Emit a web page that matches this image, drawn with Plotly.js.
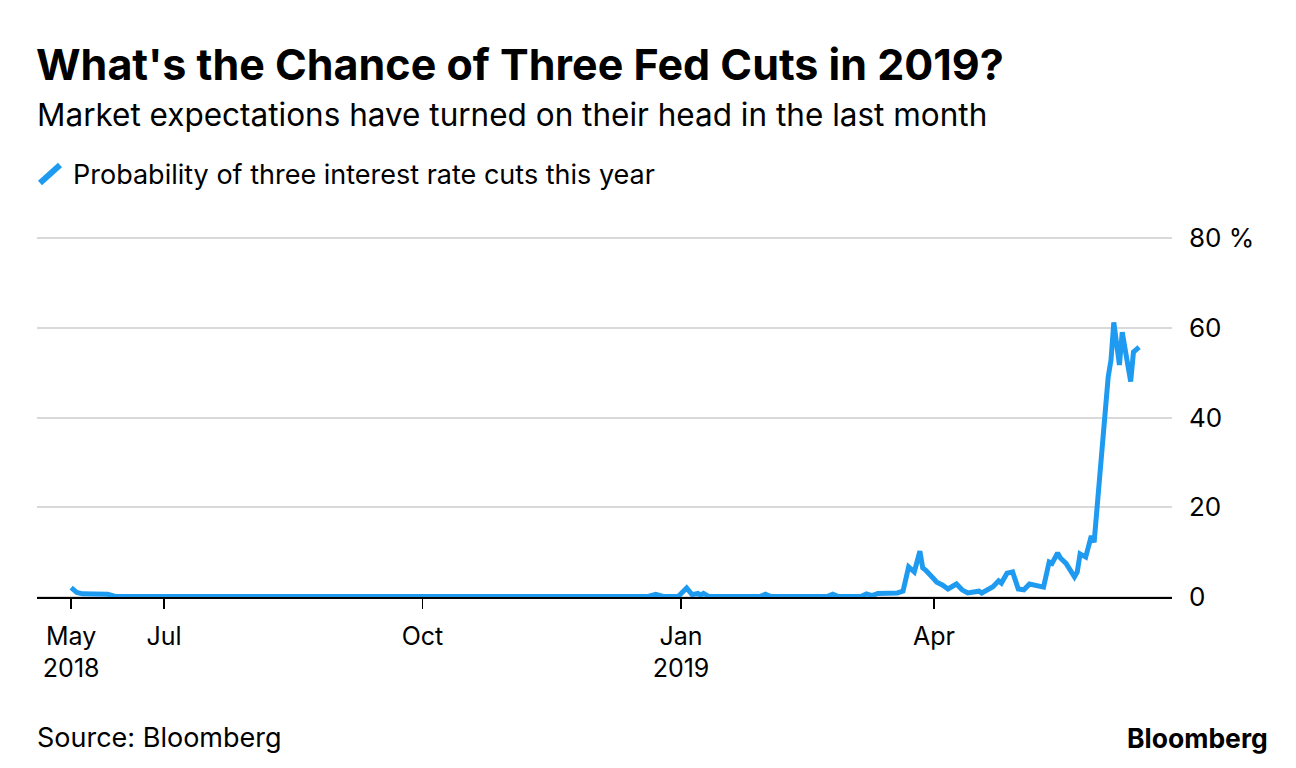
<!DOCTYPE html>
<html>
<head>
<meta charset="utf-8">
<script src="https://cdn.plot.ly/plotly-3.0.1.min.js"></script>
<style>
  html, body { margin: 0; padding: 0; background: #fff; }
  #chart { width: 1296px; height: 768px; }
</style>
</head>
<body>
<div id="chart"></div>
<script>
// ---- data ----
const dates = [
  '2018-05-29','2018-05-31','2018-06-02','2018-06-11','2018-06-14',
  '2018-07-02','2018-08-01','2018-09-04','2018-10-01','2018-11-01','2018-12-03',
  '2018-12-20','2018-12-23','2018-12-26','2018-12-31',
  '2019-01-03','2019-01-05','2019-01-07','2019-01-08','2019-01-09','2019-01-11',
  '2019-01-29','2019-01-31','2019-02-02','2019-02-22','2019-02-24','2019-02-26',
  '2019-03-06','2019-03-08','2019-03-10','2019-03-12','2019-03-19','2019-03-21',
  '2019-03-23','2019-03-25','2019-03-27','2019-03-28','2019-03-29','2019-04-01',
  '2019-04-02','2019-04-04','2019-04-06','2019-04-09','2019-04-11','2019-04-13',
  '2019-04-17','2019-04-18','2019-04-22','2019-04-24','2019-04-25','2019-04-27',
  '2019-04-29','2019-05-01','2019-05-03','2019-05-05','2019-05-09','2019-05-10',
  '2019-05-12','2019-05-13','2019-05-15','2019-05-16','2019-05-18','2019-05-20',
  '2019-05-21','2019-05-22','2019-05-23','2019-05-25','2019-05-27','2019-05-28',
  '2019-06-02','2019-06-03','2019-06-04','2019-06-06','2019-06-07','2019-06-10',
  '2019-06-11','2019-06-13'
];
const probability = [
  2.1, 1.0, 0.7, 0.6, 0.1,
  0.1, 0.1, 0.1, 0.1, 0.1, 0.1,
  0.1, 0.6, 0.1, 0.1,
  2.0, 0.5, 0.8, 0.4, 0.8, 0.1,
  0.1, 0.6, 0.1, 0.1, 0.6, 0.1,
  0.1, 0.7, 0.3, 0.8, 0.9, 1.3,
  6.7, 5.6, 10.2, 6.5, 6.0, 4.0,
  3.3, 2.7, 1.8, 2.9, 1.6, 0.9,
  1.3, 0.9, 2.3, 3.6, 3.1, 5.3,
  5.6, 1.8, 1.6, 2.9, 2.5, 2.2,
  7.8, 7.5, 9.8, 8.7, 7.5, 5.3,
  4.5, 5.6, 9.6, 8.9, 13.6, 12.2,
  49.0, 52.8, 61.2, 51.7, 59.0, 48.0,
  54.6, 55.7
];
const xTickVals = ['2018-05-29','2018-07-01','2018-10-01','2019-01-01','2019-04-01'];
const xTickText = ['May<br>2018','Jul','Oct','Jan<br>2019','Apr'];
const yTickVals = [0, 20, 40, 60, 80];
const yTickText = ['0', '20', '40', '60', '80 %'];

const titleText = "What's the Chance of Three Fed Cuts in 2019?";
const subtitleText = 'Market expectations have turned on their head in the last month';
const legendText = 'Probability of three interest rate cuts this year';
const sourceText = 'Source: Bloomberg';
const logoText = 'Bloomberg';

// ---- layout geometry ----
const W = 1296, H = 768;
const plotL = 37, plotR = 1172, plotT = 236, plotB = 601;
const yMin = -0.89, yMax = 80.45;
const FONT = 'Inter, Liberation Sans, Arial, sans-serif';
const BLUE = '#1e9bf0';

function px(x) { return (x - plotL) / (plotR - plotL); }
function py(y) { return (plotB - y) / (plotB - plotT); }

const trace = {
  x: dates, y: probability, type: 'scatter', mode: 'lines',
  line: { color: BLUE, width: 5 },
  hoverinfo: 'x+y', showlegend: false
};

const layout = {
  width: W, height: H,
  paper_bgcolor: '#fff', plot_bgcolor: '#fff',
  margin: { l: plotL, r: W - plotR, t: plotT, b: H - plotB, pad: 0 },
  font: { family: FONT, color: '#000' },
  title: {
    text: titleText,
    font: { family: FONT, size: 43, weight: 700, color: '#000' },
    xref: 'container', yref: 'container',
    x: 36 / W, xanchor: 'left',
    y: 1 - 65 / H, yanchor: 'middle'
  },
  xaxis: {
    type: 'date',
    range: ['2018-05-16T20:00', '2019-06-24T17:00'],
    tickvals: xTickVals, ticktext: xTickText,
    ticks: 'outside', ticklen: 10, tickwidth: 1.5, tickcolor: '#000',
    ticklabelstandoff: 6,
    showline: true, linecolor: '#000', linewidth: 1.5,
    showgrid: false, zeroline: false,
    anchor: 'free', position: (0 - yMin) / (yMax - yMin),
    tickfont: { family: FONT, size: 25, color: '#000' },
    fixedrange: true
  },
  yaxis: {
    range: [yMin, yMax],
    side: 'right',
    tickvals: yTickVals, ticktext: yTickText,
    ticks: '', ticklabelstandoff: 16,
    showgrid: true, gridcolor: '#d9d9d9', gridwidth: 2,
    zeroline: false, showline: false,
    tickfont: { family: FONT, size: 26, color: '#000' },
    fixedrange: true
  },
  shapes: [
    { type: 'line', xref: 'paper', yref: 'paper',
      x0: px(40), y0: py(183), x1: px(60), y1: py(165),
      line: { color: BLUE, width: 6 } }
  ],
  annotations: [
    { text: subtitleText, xref: 'paper', yref: 'paper', x: px(35), y: py(115),
      xanchor: 'left', yanchor: 'middle', showarrow: false,
      font: { family: FONT, size: 31.5, color: '#000' } },
    { text: legendText, xref: 'paper', yref: 'paper', x: px(71), y: py(175),
      xanchor: 'left', yanchor: 'middle', showarrow: false,
      font: { family: FONT, size: 27, color: '#000' } },
    { text: sourceText, xref: 'paper', yref: 'paper', x: px(35), y: py(737),
      xanchor: 'left', yanchor: 'middle', showarrow: false,
      font: { family: FONT, size: 27, color: '#000' } },
    { text: logoText, xref: 'paper', yref: 'paper', x: px(1270), y: py(738),
      xanchor: 'right', yanchor: 'middle', showarrow: false,
      font: { family: FONT, size: 26.5, weight: 700, color: '#000' } }
  ]
};

Plotly.newPlot('chart', [trace], layout, { displayModeBar: false, staticPlot: true });
</script>
</body>
</html>
